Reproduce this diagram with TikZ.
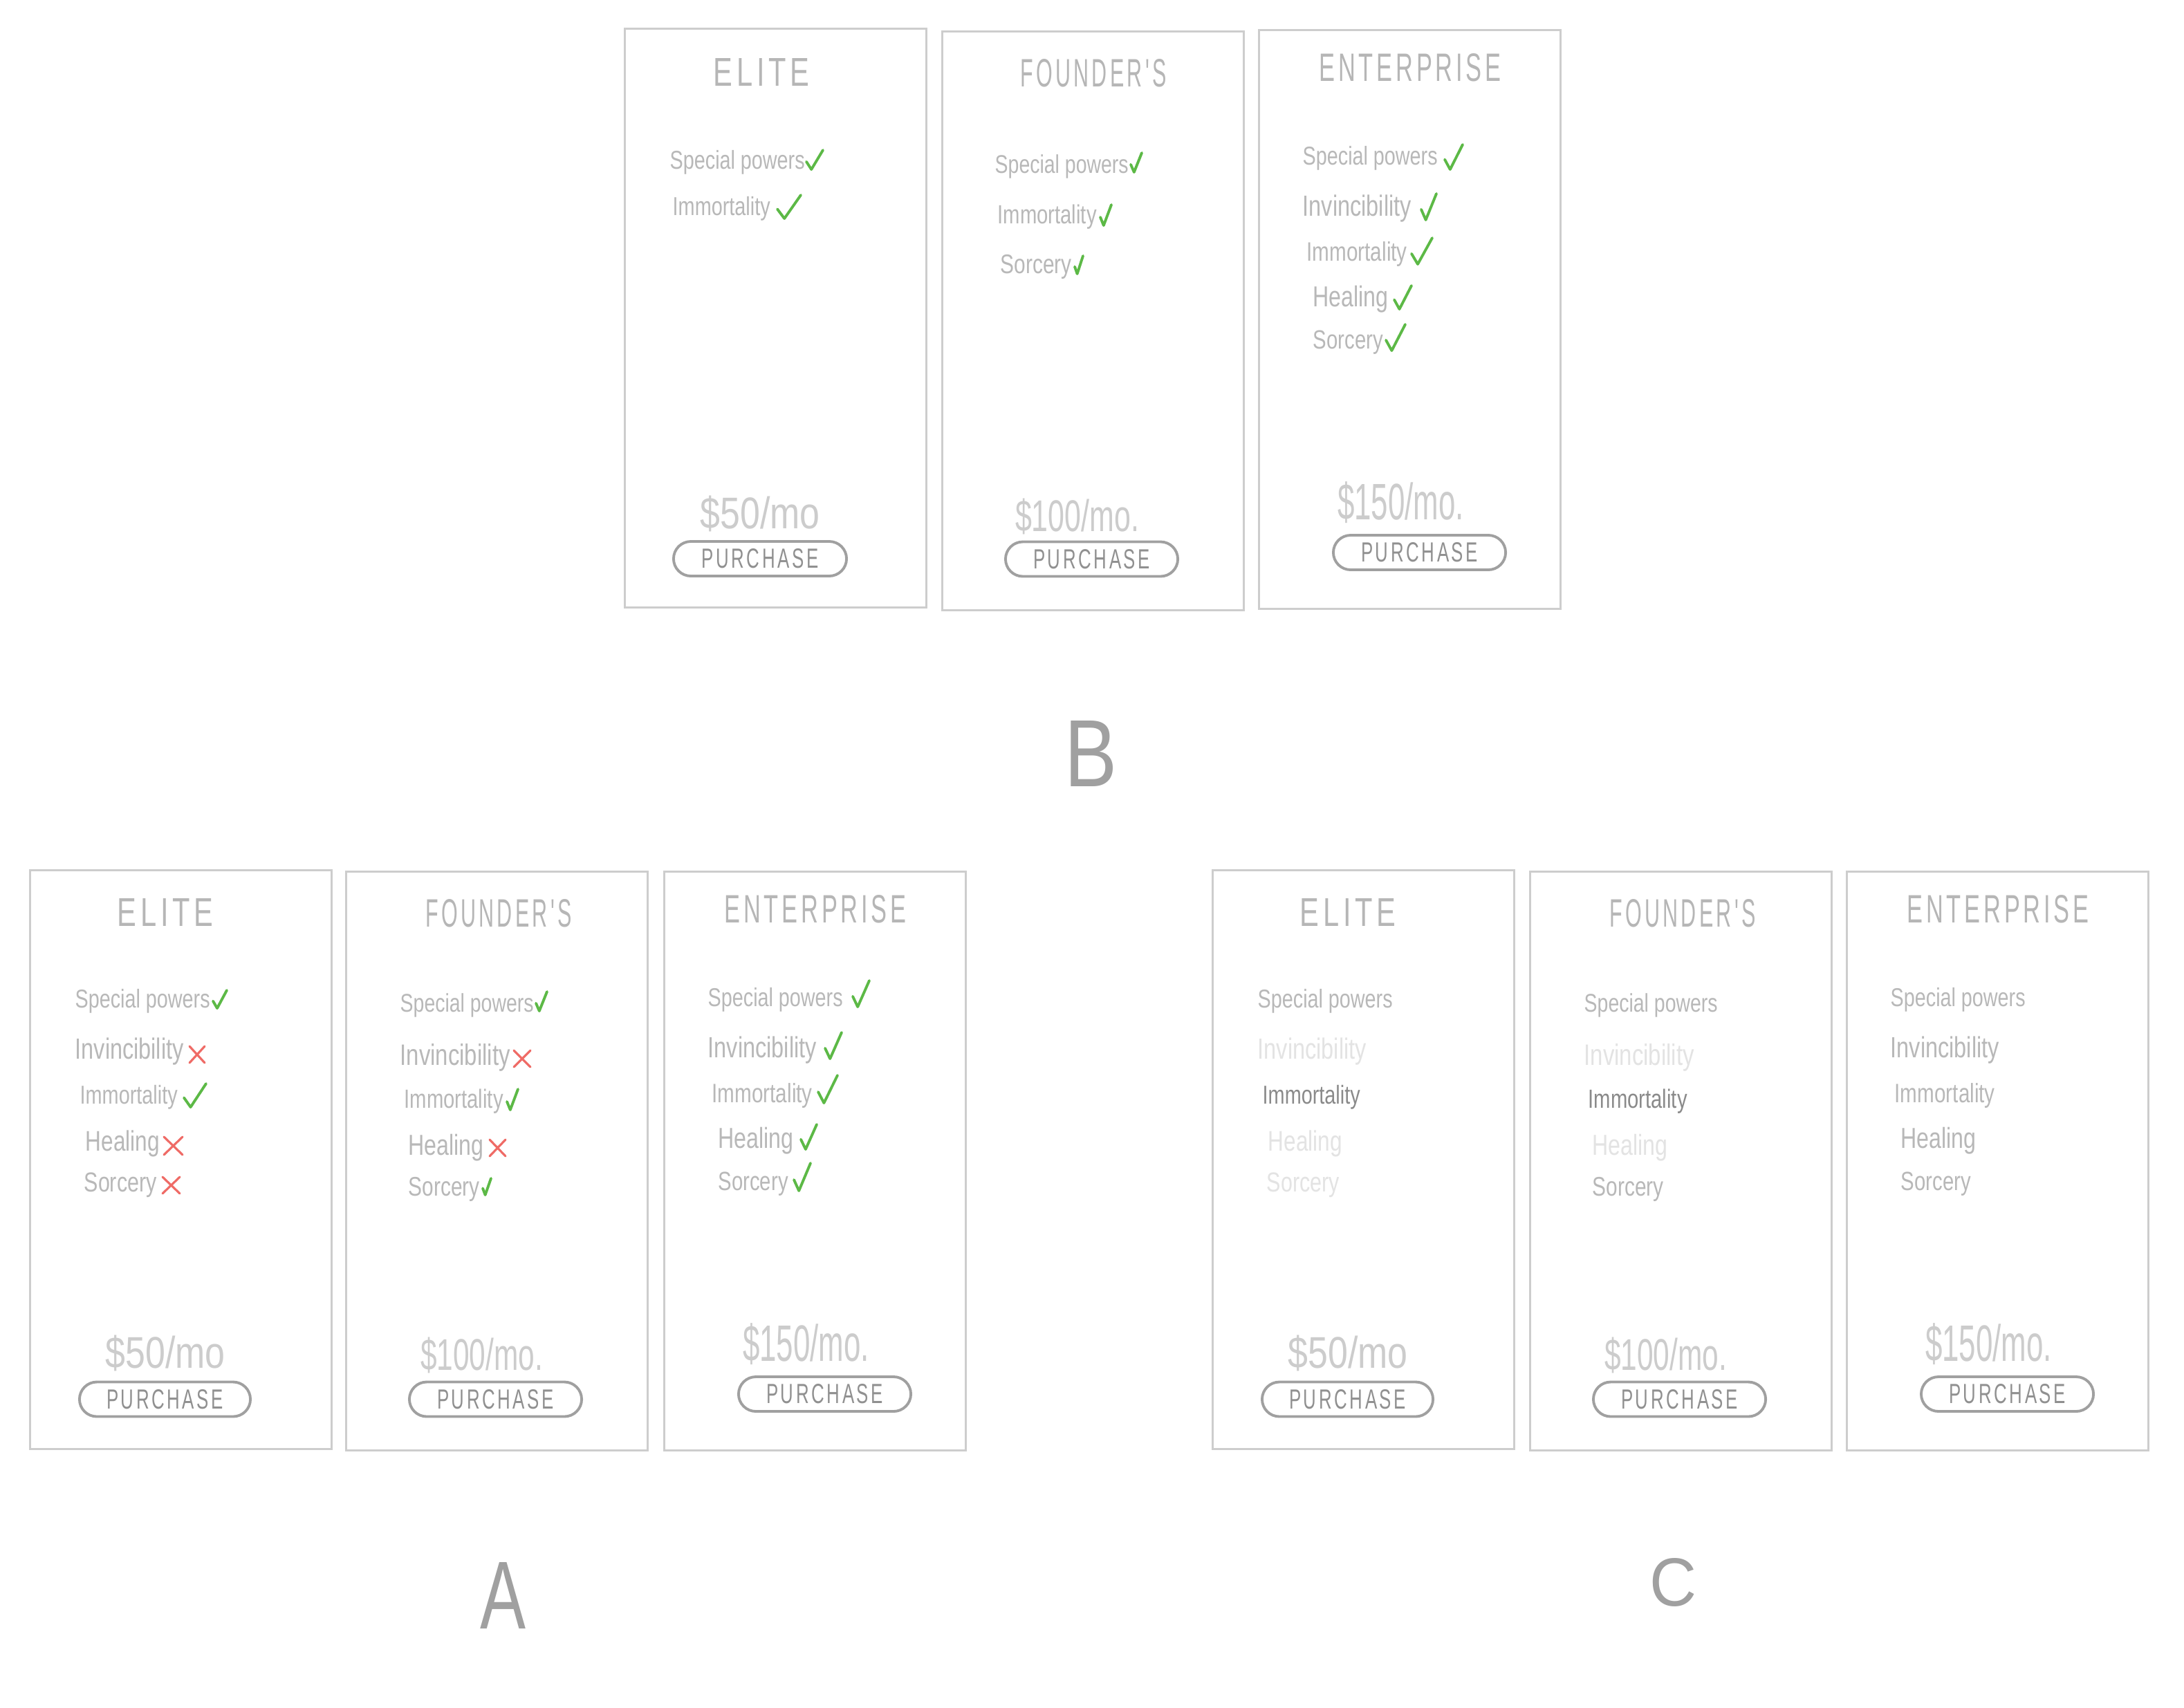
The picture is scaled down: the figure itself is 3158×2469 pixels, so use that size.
\documentclass[tikz,border=0pt]{standalone}
\usepackage{fontspec}
\setmainfont{Liberation Sans}
\newfontfamily\spacedfont[LetterSpace=14]{Liberation Sans}
\usepackage{graphicx}
\newlength\pxu \setlength\pxu{0.01cm}
\definecolor{cardgray}{HTML}{CDCDCD}
\definecolor{titlegray}{HTML}{B6B6B6}
\definecolor{featgray}{HTML}{B8B8B8}
\definecolor{pricegray}{HTML}{CCCCCC}
\definecolor{btngray}{HTML}{A0A0A0}
\definecolor{btntext}{HTML}{909090}
\definecolor{fadegray}{HTML}{E3E3E3}
\definecolor{darkfeat}{HTML}{8A8A8A}
\definecolor{okgreen}{HTML}{5CB946}
\definecolor{nored}{HTML}{EF6B66}
\definecolor{lettergray}{HTML}{A0A0A0}
\newcommand\ftxt[2]{\scalebox{1}[1.3]{\resizebox{#1\pxu}{!}{#2}}}
\newcommand\ttxt[3]{\resizebox{#1\pxu}{#2\pxu}{#3}}
\newcommand\stxt[3]{\resizebox{#1\pxu}{#2\pxu}{\spacedfont #3}}
\newcommand\ptxt[3]{\resizebox*{#1\pxu}{#2\pxu}{#3}}
\tikzset{
  card/.style={draw=cardgray, line width=0.9pt, anchor=north west, minimum width=4.36cm, minimum height=8.36cm, inner sep=0},
  ttl/.style={text=titlegray, inner sep=0},
  feat/.style={anchor=west, inner sep=0},
  price/.style={text=pricegray, inner sep=0},
  btn/.style={draw=btngray, line width=1.1pt, rounded corners=0.25cm, text=btntext, inner sep=0, minimum height=0.5cm},
  okmark/.style={draw=okgreen, line width=1.1pt, line cap=round, line join=round},
  nomark/.style={draw=nored, line width=0.9pt, line cap=round},
  bigletter/.style={text=lettergray, inner sep=0},
}
\newcommand\chk[4]{\draw[okmark] (#1,{#2+0.6*(#4-#2)}) -- ({#1+0.3*(#3-#1)},#4) -- (#3,#2);}
\newcommand\xmk[4]{\draw[nomark] (#1,#2) -- (#3,#4) (#1,#4) -- (#3,#2);}
% Elite card, five features: #1 prefix, #2-#6 feature colours
\newcommand\elitecard[6]{%
  \node[card] (#1) at (0,0) {};
  \node[ttl] (#1t) at (197,62) {\stxt{139}{40}{ELITE}};
  \node[feat,text=#2] (#1f1) at (66,191) {\ftxt{195}{Special powers}};
  \node[feat,text=#3] (#1f2) at (66,264) {\ftxt{157}{Invincibility}};
  \node[feat,text=#4] (#1f3) at (73,330) {\ftxt{141}{Immortality}};
  \node[feat,text=#5] (#1f4) at (81,397) {\ftxt{107}{Healing}};
  \node[feat,text=#6] (#1f5) at (79,457) {\ftxt{105}{Sorcery}};
  \node[price] (#1p) at (197,700) {\ptxt{173}{52}{\$50/mo}};
  \node[btn, minimum width=2.47cm] (#1b) at (196.5,766.5) {\stxt{169}{28}{PURCHASE}};
}
\newcommand\foundercard[6]{%
  \node[card] (#1) at (0,0) {};
  \node[ttl] (#1t) at (222,62) {\stxt{211}{40}{FOUNDER'S}};
  \node[feat,text=#2] (#1f1) at (79,195) {\ftxt{193}{Special powers}};
  \node[feat,text=#3] (#1f2) at (79,270) {\ftxt{159}{Invincibility}};
  \node[feat,text=#4] (#1f3) at (85,334) {\ftxt{143}{Immortality}};
  \node[feat,text=#5] (#1f4) at (91,401) {\ftxt{109}{Healing}};
  \node[feat,text=#6] (#1f5) at (91,461) {\ftxt{103}{Sorcery}};
  \node[price] (#1p) at (197.5,701) {\ptxt{177}{52}{\$100/mo.}};
  \node[btn, minimum width=2.49cm] (#1b) at (217.5,764.5) {\stxt{169}{28}{PURCHASE}};
}
\newcommand\enterprisecard[6]{%
  \node[card] (#1) at (0,0) {};
  \node[ttl] (#1t) at (220,56) {\stxt{263}{40}{ENTERPRISE}};
  \node[feat,text=#2] (#1f1) at (64,187) {\ftxt{195}{Special powers}};
  \node[feat,text=#3] (#1f2) at (64,260) {\ftxt{157}{Invincibility}};
  \node[feat,text=#4] (#1f3) at (70,326) {\ftxt{145}{Immortality}};
  \node[feat,text=#5] (#1f4) at (79,391) {\ftxt{109}{Healing}};
  \node[feat,text=#6] (#1f5) at (79,453) {\ftxt{101}{Sorcery}};
  \node[price] (#1p) at (206.5,685) {\ptxt{183}{60}{\$150/mo.}};
  \node[btn, minimum width=2.49cm] (#1b) at (233.5,757) {\stxt{169}{28}{PURCHASE}};
}
\begin{document}
\begin{tikzpicture}[x=0.01cm, y=-0.01cm]
\path[use as bounding box, fill=white] (0,0) rectangle (3158,2469);

% ---------- B row ----------
\begin{scope}[shift={(902,40)}]
  \node[card] (bE) at (0,0) {};
  \node[ttl] (bEt) at (199,64) {\stxt{139}{40}{ELITE}};
  \node[feat,text=featgray] (bEf1) at (66,195) {\ftxt{195}{Special powers}};
  \node[feat,text=featgray] (bEf2) at (70,262) {\ftxt{141}{Immortality}};
  \chk{264}{177}{288}{205}
  \chk{222}{242}{256}{276}
  \node[price] (bEp) at (197,703) {\ptxt{173}{52}{\$50/mo}};
  \node[btn, minimum width=2.5cm] (bEb) at (197,768) {\stxt{169}{28}{PURCHASE}};
\end{scope}

\begin{scope}[shift={(1361,44)}]
  \node[card] (bF) at (0,0) {};
  \node[ttl] (bFt) at (220,62) {\stxt{211}{40}{FOUNDER'S}};
  \node[feat,text=featgray] (bFf1) at (77,197) {\ftxt{193}{Special powers}};
  \node[feat,text=featgray] (bFf2) at (81,270) {\ftxt{143}{Immortality}};
  \node[feat,text=featgray] (bFf3) at (85,342) {\ftxt{103}{Sorcery}};
  \chk{274}{177}{290}{205}
  \chk{230}{252}{246}{282}
  \chk{193}{326}{205}{352}
  \node[price] (bFp) at (196.5,703) {\ptxt{179}{52}{\$100/mo.}};
  \node[btn, minimum width=2.49cm] (bFb) at (217.5,764.5) {\stxt{169}{28}{PURCHASE}};
\end{scope}

\begin{scope}[shift={(1819,42)}]
  \enterprisecard{bN}{featgray}{featgray}{featgray}{featgray}{featgray}
  \chk{270}{167}{296}{203}
  \chk{236}{238}{258}{276}
  \chk{222}{302}{252}{340}
  \chk{197}{371}{222}{405}
  \chk{185}{427}{213}{465}
\end{scope}

\node[bigletter] (labB) at (1577,1090) {\ttxt{76}{95}{B}};

% ---------- A row ----------
\begin{scope}[shift={(42,1257)}]
  \elitecard{aE}{featgray}{featgray}{featgray}{featgray}{featgray}
  \chk{266}{175}{286}{201}
  \xmk{232}{256}{254}{280}
  \chk{224}{310}{256}{344}
  \xmk{195}{387}{222}{413}
  \xmk{193}{445}{218}{469}
\end{scope}

\begin{scope}[shift={(499,1259)}]
  \foundercard{aF}{featgray}{featgray}{featgray}{featgray}{featgray}
  \chk{276}{175}{292}{203}
  \xmk{244}{260}{268}{284}
  \chk{234}{316}{250}{346}
  \xmk{209}{389}{232}{413}
  \chk{199}{445}{211}{469}
\end{scope}

\begin{scope}[shift={(959,1259)}]
  \enterprisecard{aN}{featgray}{featgray}{featgray}{featgray}{featgray}
  \chk{274}{159}{298}{197}
  \chk{234}{234}{258}{272}
  \chk{224}{296}{252}{336}
  \chk{199}{367}{222}{403}
  \chk{189}{423}{213}{463}
\end{scope}

\node[bigletter] (labA) at (727,2307) {\ttxt{66}{96}{A}};

% ---------- C row ----------
\begin{scope}[shift={(1752,1257)}]
  \elitecard{cE}{featgray}{fadegray}{darkfeat}{fadegray}{fadegray}
\end{scope}

\begin{scope}[shift={(2211,1259)}]
  \foundercard{cF}{featgray}{fadegray}{darkfeat}{fadegray}{featgray}
\end{scope}

\begin{scope}[shift={(2669,1259)}]
  \enterprisecard{cN}{featgray}{featgray}{featgray}{featgray}{featgray}
\end{scope}

\node[bigletter] (labC) at (2419,2288) {\ttxt{68}{69}{C}};
\end{tikzpicture}
\end{document}
